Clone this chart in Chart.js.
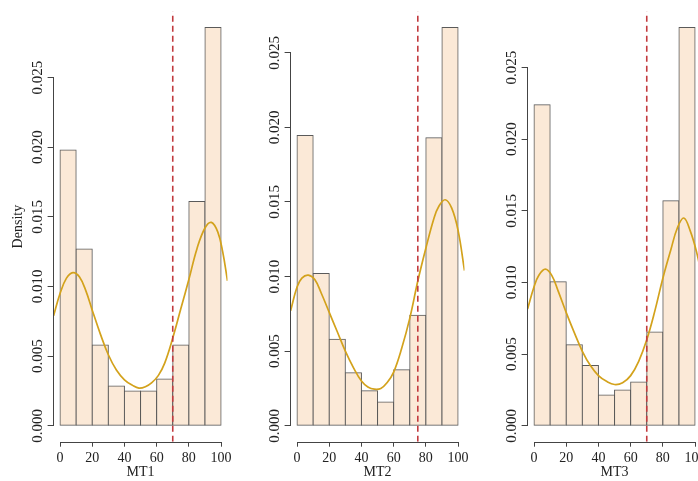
<!DOCTYPE html>
<html><head><meta charset="utf-8">
<script src="https://cdn.jsdelivr.net/npm/chart.js@4.4.1/dist/chart.umd.min.js"></script>
<style>
html,body{margin:0;padding:0;background:#fff;overflow:hidden;width:698px;height:481px;}
#wrap{position:relative;width:698px;height:481px;overflow:hidden;background:#fff;}
canvas{position:absolute;top:0;}
</style></head><body>
<div id="wrap">
<canvas id="c1" width="237" height="481" style="left:0px"></canvas>
<canvas id="c2" width="237" height="481" style="left:237px"></canvas>
<canvas id="c3" width="237" height="481" style="left:474px"></canvas>
</div>
<script>
// ---- data ----
const panelNames = ['MT1', 'MT2', 'MT3'];
const binCenters = [5, 15, 25, 35, 45, 55, 65, 75, 85, 95];
const densityMT1 = [0.0198, 0.0127, 0.0058, 0.00285, 0.0025, 0.0025, 0.00335, 0.0058, 0.0161, 0.0286];
const densityMT2 = [0.01945, 0.0102, 0.0058, 0.00355, 0.00235, 0.0016, 0.00375, 0.0074, 0.0193, 0.0267];
const densityMT3 = [0.0224, 0.01005, 0.00565, 0.0042, 0.00215, 0.0025, 0.00305, 0.00655, 0.0157, 0.0278];
const cutoffs = [70, 75, 70];

const kdeX_MT1 = [-4, 0, 4, 8, 12, 16, 20, 25, 30, 35, 40, 45, 49, 53, 57, 61, 65, 70, 75, 80, 85, 90, 94, 98, 101, 104];
const kdeY_MT1 = [0.0079, 0.0095, 0.0106, 0.0110, 0.0107, 0.0097, 0.0083, 0.0066, 0.0051, 0.0040, 0.0033, 0.0029, 0.0027, 0.0028, 0.0031, 0.0036, 0.0045, 0.0063, 0.0084, 0.0105, 0.0127, 0.0142, 0.0146, 0.0139, 0.0125, 0.0104];
const kdeX_MT2 = [-4, 0, 3, 7, 11, 15, 20, 25, 30, 35, 40, 44, 48, 52, 56, 60, 65, 70, 75, 80, 85, 88, 92, 96, 100, 104];
const kdeY_MT2 = [0.0077, 0.0093, 0.0099, 0.0101, 0.0098, 0.0089, 0.0076, 0.0063, 0.0050, 0.0039, 0.0030, 0.0026, 0.00245, 0.0025, 0.0029, 0.0036, 0.0052, 0.0072, 0.0097, 0.0119, 0.0139, 0.0147, 0.01515, 0.0146, 0.0131, 0.0104];
const kdeX_MT3 = [-4, 0, 3, 7, 11, 15, 20, 25, 30, 35, 40, 45, 50, 55, 60, 65, 70, 75, 80, 85, 89, 93, 97, 101, 104];
const kdeY_MT3 = [0.00815, 0.0097, 0.0105, 0.01093, 0.0105, 0.0094, 0.0079, 0.0065, 0.0052, 0.0042, 0.0035, 0.0031, 0.00288, 0.0030, 0.0035, 0.0045, 0.0060, 0.0080, 0.0103, 0.0123, 0.0138, 0.0145, 0.0136, 0.0121, 0.0105];

const xTickValues = [0, 20, 40, 60, 80, 100];
const yTickValues = [0, 0.005, 0.010, 0.015, 0.020, 0.025];
const xRange = [-4, 104];

// ---- style ----
const FONT = '"Liberation Serif", "DejaVu Serif", serif';
const textColor = '#222';
const axisColor = '#444';
const barFill = '#FBE9D7';
const barBorder = '#5a5a5a';
const curveColor = '#D3A21C';
const cutColor = '#C23A3E';

const panels = [
  {bars: densityMT1, kx: kdeX_MT1, ky: kdeY_MT1},
  {bars: densityMT2, kx: kdeX_MT2, ky: kdeY_MT2},
  {bars: densityMT3, kx: kdeX_MT3, ky: kdeY_MT3}
];

const rAxes = {
  id: 'rAxes',
  afterDraw(chart) {
    const {ctx, chartArea, scales: {x, y}} = chart;
    ctx.save();
    ctx.strokeStyle = axisColor;
    ctx.lineWidth = 1;
    const xb = Math.round(chartArea.bottom) + 0.5;
    ctx.beginPath();
    ctx.moveTo(x.getPixelForValue(xTickValues[0]), xb);
    ctx.lineTo(x.getPixelForValue(xTickValues[xTickValues.length - 1]), xb);
    ctx.stroke();
    const yl = Math.round(chartArea.left) - 0.5;
    ctx.beginPath();
    ctx.moveTo(yl, y.getPixelForValue(yTickValues[0]));
    ctx.lineTo(yl, y.getPixelForValue(yTickValues[yTickValues.length - 1]));
    ctx.stroke();
    ctx.fillStyle = textColor;
    ctx.font = '15px ' + FONT;
    ctx.textAlign = 'center';
    ctx.textBaseline = 'middle';
    yTickValues.forEach(v => {
      const py = y.getPixelForValue(v);
      ctx.save();
      ctx.translate(chartArea.left - 15.5, py);
      ctx.rotate(-Math.PI / 2);
      ctx.fillText(v.toFixed(3), 0, 0);
      ctx.restore();
    });
    ctx.restore();
  }
};

panels.forEach((p, i) => {
  const top = Math.max(...p.bars);
  const yMin = -0.04 * top, yMax = 1.04 * top;
  new Chart(document.getElementById('c' + (i + 1)), {
    type: 'bar',
    data: {
      datasets: [
        {
          type: 'line', order: 1,
          data: [{x: cutoffs[i], y: yMin}, {x: cutoffs[i], y: yMax}],
          borderColor: cutColor, borderWidth: 1.6, borderDash: [6, 4],
          pointRadius: 0, fill: false
        },
        {
          type: 'line', order: 2,
          data: p.kx.map((xv, k) => ({x: xv, y: p.ky[k]})),
          borderColor: curveColor, borderWidth: 1.7,
          pointRadius: 0, fill: false, tension: 0.4
        },
        {
          type: 'bar', order: 3,
          data: binCenters.map((c, k) => ({x: c, y: p.bars[k]})),
          backgroundColor: barFill, borderColor: barBorder,
          borderSkipped: false, borderWidth: 1,
          barPercentage: 1, categoryPercentage: 1, inflateAmount: 0.5
        }
      ]
    },
    options: {
      responsive: false, animation: false, devicePixelRatio: 1,
      layout: {padding: {top: 11.5, left: 0, right: 9.5, bottom: 0}},
      plugins: {legend: {display: false}, tooltip: {enabled: false}},
      scales: {
        x: {
          type: 'linear', min: xRange[0], max: xRange[1], offset: false,
          afterBuildTicks: s => { s.ticks = xTickValues.map(v => ({value: v})); },
          afterFit: s => { s.height = 39.3; s.paddingLeft = 0; s.paddingRight = 0; },
          border: {display: false},
          grid: {display: true, drawOnChartArea: false, drawTicks: true, tickLength: 5, color: axisColor, offset: false},
          ticks: {font: {family: FONT, size: 14}, color: textColor, padding: 3, maxRotation: 0, autoSkip: false,
                  callback: v => String(v)},
          title: {display: true, text: panelNames[i], font: {family: FONT, size: 14}, color: textColor, padding: {top: 0, bottom: 0}}
        },
        y: {
          type: 'linear', min: yMin, max: yMax,
          afterBuildTicks: s => { s.ticks = yTickValues.map(v => ({value: v})); },
          afterFit: s => { s.width = 53.6; s.paddingTop = 0; s.paddingBottom = 0; },
          border: {display: false},
          grid: {display: true, drawOnChartArea: false, drawTicks: true, tickLength: 6, color: axisColor},
          ticks: {display: false},
          title: {display: i === 0, text: 'Density', font: {family: FONT, size: 14}, color: textColor, padding: {top: 10, bottom: 0}}
        }
      }
    },
    plugins: [rAxes]
  });
});
</script>
</body></html>
